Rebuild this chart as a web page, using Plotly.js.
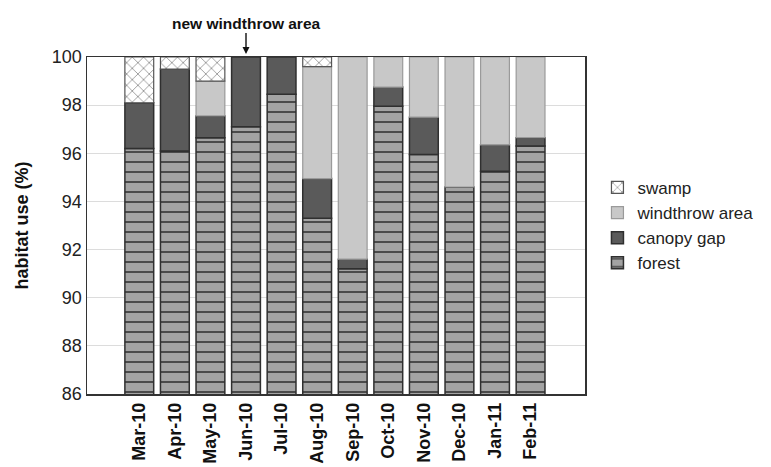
<!DOCTYPE html>
<html><head><meta charset="utf-8">
<script src="https://cdn.plot.ly/plotly-3.0.1.min.js"></script>
<style>html,body{margin:0;padding:0;background:#fff}#chart{width:771px;height:467px}</style>
</head><body><div id="chart"></div>
<script>
const months = ["Mar-10","Apr-10","May-10","Jun-10","Jul-10","Aug-10","Sep-10","Oct-10","Nov-10","Dec-10","Jan-11","Feb-11"];
const forest    = [96.2, 96.1, 96.65, 97.1, 98.45, 93.3, 91.2, 97.95, 95.95, 94.6, 95.25, 96.3];
const canopyGap = [1.9, 3.4, 0.9, 2.9, 1.55, 1.65, 0.4, 0.8, 1.55, 0.0, 1.1, 0.35];
const windthrow = [0.0, 0.0, 1.45, 0.0, 0.0, 4.65, 8.4, 1.25, 2.5, 5.4, 3.65, 3.35];
const swamp     = [1.9, 0.5, 1.0, 0.0, 0.0, 0.4, 0.0, 0.0, 0.0, 0.0, 0.0, 0.0];

const series = [forest, canopyGap, windthrow, swamp];
const names = ["forest","canopy gap","windthrow area","swamp"];
const markers = [
  {color:"#a3a3a3", line:{color:"#2f2f2f", width:1.5},
     pattern:{shape:"-", fgcolor:"#4a4a4a", bgcolor:"#a3a3a3", size:10, solidity:0.2}},
  {color:"#5a5a5a", line:{color:"#2f2f2f", width:1.5}},
  {color:"#c8c8c8", line:{color:"#9a9a9a", width:1.2}},
  {color:"#ffffff", line:{color:"#555", width:1.2},
     pattern:{shape:"x", fgcolor:"#6a6a6a", bgcolor:"#ffffff", size:8, solidity:0.15}}
];
const cum = months.map(()=>0);
const traces = series.map((vals,i)=>{
  const baseArr = cum.slice();
  vals.forEach((v,j)=>{cum[j]+=v;});
  return {type:"bar", x:months, y:vals.map(v=>v===0?null:v), base:baseArr, width:0.81,
          name:names[i], marker:markers[i], hoverinfo:"skip"};
});

const layout = {
  width:771, height:467,
  margin:{l:87, r:184, t:57, b:73},
  paper_bgcolor:"#fff", plot_bgcolor:"#fff",
  barmode:"overlay",
  font:{family:"Liberation Sans, Arial, sans-serif", color:"#111"},
  showlegend:true,
  legend:{x:1.025, y:0.665, xanchor:"left", yanchor:"top", traceorder:"reversed",
          font:{size:17, color:"#222"}, itemwidth:30, tracegroupgap:0, bgcolor:"rgba(0,0,0,0)"},
  xaxis:{type:"category", categoryorder:"array", categoryarray:months, range:[-1.47,12.53],
         tickangle:-90, tickfont:{size:18, color:"#111", family:"Liberation Sans, Arial, sans-serif", weight:"bold"},
         showline:true, linecolor:"#333", linewidth:1.5, mirror:true, ticks:"", showgrid:false, zeroline:false},
  yaxis:{range:[86,100], dtick:2, tick0:86, tickfont:{size:18, color:"#222"},
         showline:true, linecolor:"#333", linewidth:1.5, mirror:true, ticks:"",
         showgrid:true, gridcolor:"#dcdcdc", gridwidth:1.2, zeroline:false,
         title:{text:"<b>habitat use (%)</b>", font:{size:18, color:"#111"}, standoff:18}},
  annotations:[{xref:"x", yref:"paper", x:"Jun-10", y:1.0, text:"<b>new windthrow area</b>",
    showarrow:true, arrowhead:2, arrowsize:1, arrowwidth:1.4, arrowcolor:"#111", ax:0, ay:-34,
    standoff:3, font:{size:15.5, color:"#111"}}]
};
Plotly.newPlot("chart", traces, layout, {displayModeBar:false, staticPlot:true});
</script></body></html>
